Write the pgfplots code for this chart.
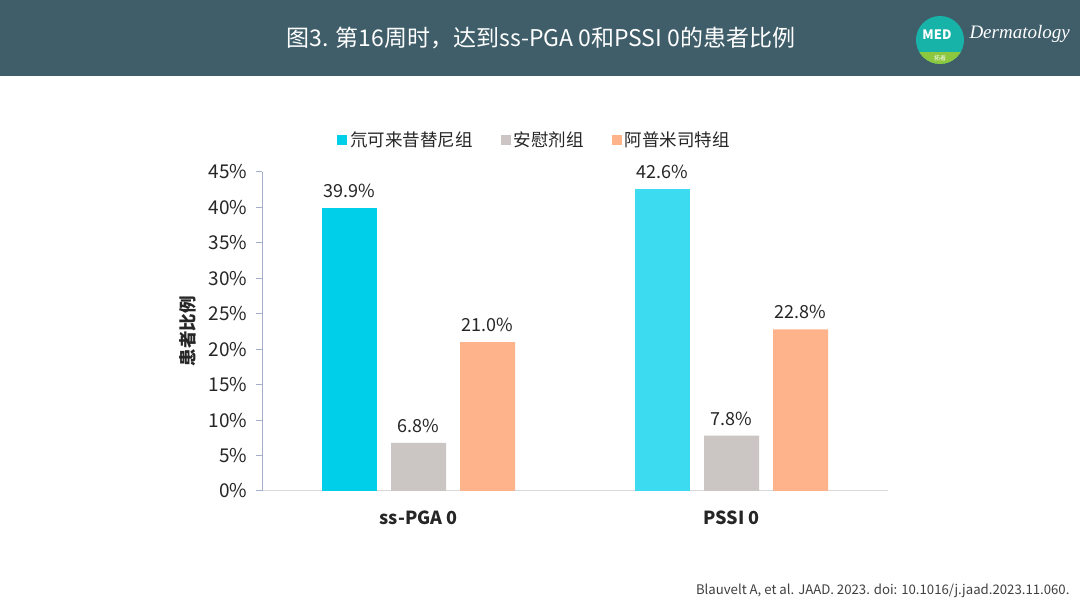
\documentclass[border=0pt]{standalone}
\usepackage{fontspec}
\setmainfont{Noto Sans CJK SC}
\newfontfamily\scriptf{Liberation Serif}
\usepackage{pgfplots}
\pgfplotsset{compat=1.18}
\definecolor{hdr}{HTML}{3F5E69}
\definecolor{logoteal}{HTML}{18B3A8}
\definecolor{logogreen}{HTML}{8DC63F}
\definecolor{footgray}{HTML}{404040}
\definecolor{cyanA}{HTML}{00CFE9}
\definecolor{cyanB}{HTML}{3DDBEF}
\definecolor{grayA}{HTML}{CBC5C3}
\definecolor{orangeA}{HTML}{FFB38A}
\definecolor{yaxis}{HTML}{A3AFCC}
\definecolor{xaxis}{HTML}{D9D9D9}
\definecolor{txt}{HTML}{262626}
\begin{document}
\begin{tikzpicture}[x=1bp,y=1bp]
\useasboundingbox (0,0) rectangle (1080,608);
\fill[white] (0,0) rectangle (1080,608);
\fill[hdr] (0,532) rectangle (1080,608);
\node[text=white, font=\fontsize{23bp}{27bp}\selectfont] at (541,570) {图3. 第16周时，达到ss-PGA 0和PSSI 0的患者比例};
% logo
\begin{scope}
\clip (940,568) circle (24);
\fill[logoteal] (914,542) rectangle (966,594);
\fill[logogreen] (914,542) rectangle (966,556);
\end{scope}
\node[white, font=\bfseries\fontsize{13bp}{13bp}\selectfont] at (937,573) {MED};
\node[white, font=\fontsize{6bp}{6bp}\selectfont] at (940,550) {拓者};
\node[white, font=\scriptf\itshape\fontsize{19bp}{19bp}\selectfont, anchor=west] at (966,574) {Dermatology};
% footer
\node[anchor=east, text=footgray, font=\fontsize{13.2bp}{15bp}\selectfont] at (1073,17) {Blauvelt A, et al. JAAD. 2023. doi: 10.1016/j.jaad.2023.11.060.};
\begin{axis}[
  at={(262bp,117bp)}, anchor=south west, scale only axis,
  width=626bp, height=319bp,
  ybar=14bp, bar width=55bp,
  xmin=-0.5, xmax=1.5, ymin=0, ymax=45,
  xtick={0,1}, xticklabels={ss-PGA 0, PSSI 0},
  x tick label style={font=\bfseries\fontsize{18bp}{20bp}\selectfont, text=txt, yshift=-10bp},
  ytick={0,5,...,45},
  yticklabel={\pgfmathprintnumber[assume math mode=true]{\tick}\%},
  y tick label style={font=\fontsize{19bp}{21bp}\selectfont, text=txt, xshift=-5bp},
  axis x line*=bottom, axis y line*=left,
  x axis line style={draw=xaxis, line width=1bp},
  y axis line style={draw=yaxis, line width=1bp},
  major x tick style={draw=none},
  major y tick style={draw=yaxis, line width=1bp},
  tick align=outside, major tick length=6bp,
  ylabel={患者比例},
  ylabel style={font=\bfseries\fontsize{17.5bp}{20bp}\selectfont, text=txt, at={(axis description cs:-0.118,0.5)}, anchor=center},
  nodes near coords={\pgfmathprintnumber[fixed,fixed zerofill,precision=1,assume math mode=true]{\pgfplotspointmeta}\%},
  nodes near coords style={font=\fontsize{18bp}{20bp}\selectfont, text=txt, anchor=south, inner sep=0bp, yshift=10bp},
  legend image code/.code={\fill[#1] (0bp,-5bp) rectangle (10bp,5bp);},
  legend style={at={(0.435,1.10)}, anchor=center, draw=none, fill=none,
    legend columns=3, font=\fontsize{17.5bp}{20bp}\selectfont, text=txt,
    /tikz/every odd column/.append style={column sep=1bp},
    /tikz/every even column/.append style={column sep=26bp}},
]
\addplot[fill=cyanA, draw=none, bar shift=-69bp] coordinates {(0,39.9)};
\addlegendentry{氘可来昔替尼组}
\addplot[fill=cyanB, draw=none, bar shift=-69bp, forget plot] coordinates {(1,42.6)};
\addplot[fill=grayA, draw=none, bar shift=0bp] coordinates {(0,6.8) (1,7.8)};
\addlegendentry{安慰剂组}
\addplot[fill=orangeA, draw=none, bar shift=69bp] coordinates {(0,21.0) (1,22.8)};
\addlegendentry{阿普米司特组}
\end{axis}
\end{tikzpicture}
\end{document}
